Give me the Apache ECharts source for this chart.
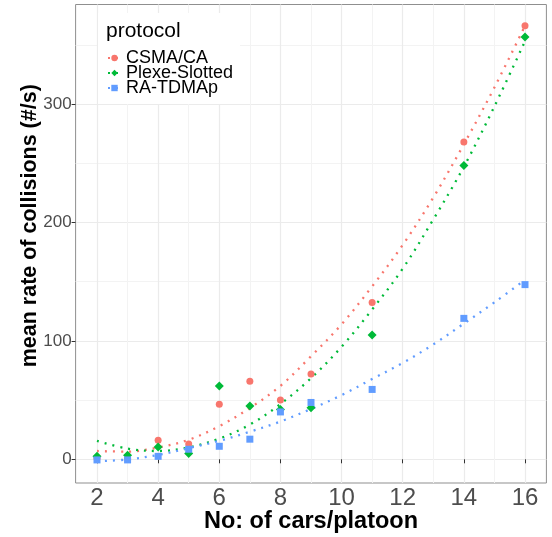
<!DOCTYPE html>
<html>
<head>
<meta charset="utf-8">
<script src="https://cdn.jsdelivr.net/npm/echarts@6/dist/echarts.min.js"></script>
<style>
html,body{margin:0;padding:0;background:#fff;}
#chart{width:552px;height:537px;}
</style>
</head>
<body>
<div id="chart"></div>
<script>
// ---- data ----
const protocols = ['CSMA/CA', 'Plexe-Slotted', 'RA-TDMAp'];
const pointX = [2, 3, 4, 5, 6, 7, 8, 9, 11, 14, 16];
const csmaPoints  = [1, 0.5, 16, 13, 46.5, 66, 50, 72, 132.5, 268, 366];
const plexePoints = [2.5, 3.5, 10.5, 5, 62, 45, 42, 43.5, 105, 248, 356.5];
const ratdmaPoints = [-0.5, -0.5, 2.5, 8.5, 11, 17, 40, 48, 59, 119, 147.5];

// smoothed (fitted) curves
const curveX = [2, 3, 4, 5, 6, 7, 8, 9, 10, 11, 12, 13, 14, 15, 16];
const csmaCurve  = [7, 6.5, 10, 16.5, 28, 43.3, 62, 87, 114, 146, 181, 221, 266, 314, 366];
const plexeCurve = [15.5, 9, 7, 10, 17.5, 29.3, 46.6, 68.5, 95, 126.5, 161, 202.5, 247, 298, 353];
const ratdmaCurve = [-1.7, -0.1, 3.7, 9.4, 15.6, 23.3, 31.9, 42.5, 54.2, 67.8, 81.4, 97, 114.6, 132.5, 151.5];

const xMajor = [2, 4, 6, 8, 10, 12, 14, 16];
const xMinor = [3, 5, 7, 9, 11, 13, 15];
const yMajor = [0, 100, 200, 300];
const yMinor = [50, 150, 250, 350];

// ---- styling ----
const colors = ['#F8766D', '#00BA38', '#619CFF'];
const symbols = ['circle', 'diamond', 'rect'];
const symbolSizes = [7, 9, 7];
const FONT = 'Liberation Sans, Arial, Helvetica, sans-serif';

const pointSets = [csmaPoints, plexePoints, ratdmaPoints];
const curveSets = [csmaCurve, plexeCurve, ratdmaCurve];

const series = [];
protocols.forEach((name, i) => {
  series.push({
    name: name,
    type: 'line',
    data: curveX.map((x, j) => [x, curveSets[i][j]]),
    smooth: 0.35,
    symbol: symbols[i],
    showSymbol: false,
    color: colors[i],
    lineStyle: { color: colors[i], width: 2.3, type: [2, 6] },
    emphasis: { disabled: true },
    z: 3
  });
});
protocols.forEach((name, i) => {
  series.push({
    name: name,
    type: 'scatter',
    data: pointX.map((x, j) => [x, pointSets[i][j]]),
    symbol: symbols[i],
    symbolSize: symbolSizes[i],
    itemStyle: { color: colors[i], opacity: 1 },
    emphasis: { disabled: true },
    z: 4
  });
});

const chart = echarts.init(document.getElementById('chart'), null, { renderer: 'canvas' });
chart.setOption({
  animation: false,
  backgroundColor: '#fff',
  textStyle: { fontFamily: FONT },
  title: {
    text: 'protocol',
    left: 106, top: 21, padding: 0,
    textStyle: { fontSize: 21, fontWeight: 'normal', color: '#000', fontFamily: FONT }
  },
  legend: {
    data: protocols,
    orient: 'vertical',
    left: 98, top: 13,
    padding: [36, 7, 7, 9],
    backgroundColor: '#fff',
    itemWidth: 13, itemHeight: 8, itemGap: -3,
    selectedMode: false,
    textStyle: { fontSize: 18, color: '#000', fontFamily: FONT }
  },
  grid: {
    left: 75.6, right: 5.6, top: 4.5, bottom: 54,
    outerBoundsMode: 'none',
    show: true, borderColor: '#8f8f8f', borderWidth: 1, backgroundColor: '#fff',
    containLabel: false
  },
  xAxis: [{
    type: 'value', min: 1.3, max: 16.7,
    name: 'No: of cars/platoon', nameLocation: 'middle', nameGap: 27, nameMoveOverlap: false,
    nameTextStyle: { fontSize: 23.5, fontWeight: 'bold', color: '#000', fontFamily: FONT },
    axisLine: { show: false },
    axisTick: { show: true, customValues: xMajor, length: 4, lineStyle: { color: '#333', width: 1 } },
    axisLabel: { customValues: xMajor, fontSize: 24, color: '#4D4D4D', margin: 3, fontFamily: FONT },
    splitLine: { show: true, lineStyle: { color: '#EBEBEB', width: 1.2 } }
  }, {
    type: 'value', min: 1.3, max: 16.7, position: 'bottom',
    axisLine: { show: false },
    axisTick: { show: false, customValues: xMinor },
    axisLabel: { show: false },
    splitLine: { show: true, lineStyle: { color: '#F3F3F3', width: 1 } }
  }],
  yAxis: [{
    type: 'value', min: -20, max: 384,
    name: 'mean rate of collisions (#/s)', nameLocation: 'middle', nameGap: 35, nameMoveOverlap: false,
    nameTextStyle: { fontSize: 21.5, fontWeight: 'bold', color: '#000', fontFamily: FONT, padding: [0, 0, 0, 36] },
    axisLine: { show: false },
    axisTick: { show: true, customValues: yMajor, length: 4, lineStyle: { color: '#333', width: 1 } },
    axisLabel: { customValues: yMajor, fontSize: 17, color: '#4D4D4D', margin: 4, fontFamily: FONT },
    splitLine: { show: true, lineStyle: { color: '#EBEBEB', width: 1.2 } }
  }, {
    type: 'value', min: -20, max: 384, position: 'left',
    axisLine: { show: false },
    axisTick: { show: false, customValues: yMinor },
    axisLabel: { show: false },
    splitLine: { show: true, lineStyle: { color: '#F3F3F3', width: 1 } }
  }],
  series: series
});
</script>
</body>
</html>
